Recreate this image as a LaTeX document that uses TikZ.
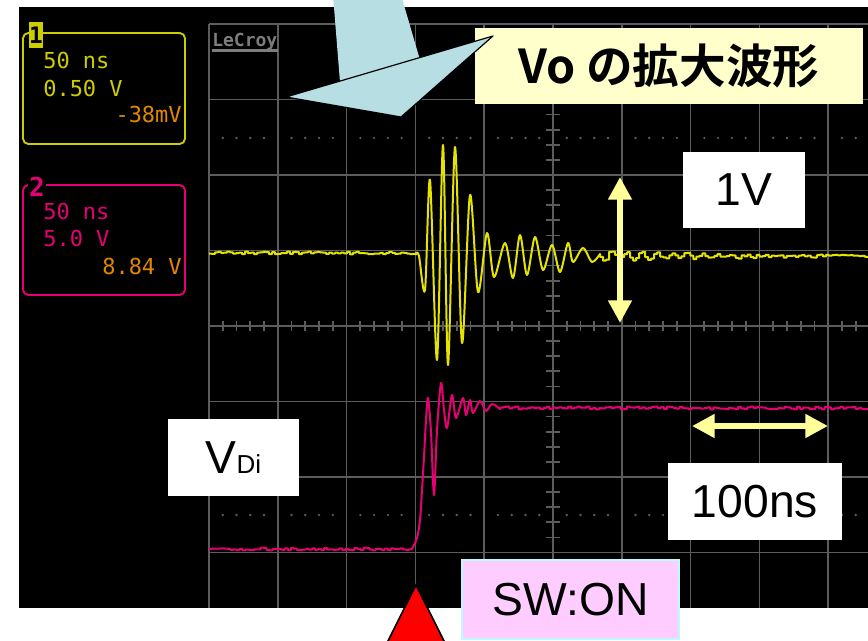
\documentclass[tikz,border=0pt]{standalone}
\usepackage{fontspec}
\setmainfont{Liberation Sans}
\newfontfamily\scopefont{DejaVu Sans Mono}
\newfontfamily\jpfont{Noto Sans CJK JP}[BoldFont={Noto Sans CJK JP Bold}]
\usetikzlibrary{arrows.meta}
\definecolor{scopeyellow}{RGB}{228,228,0}
\definecolor{textyellow}{RGB}{205,205,0}
\definecolor{scopepink}{RGB}{230,0,115}
\definecolor{scopeorange}{RGB}{225,135,0}
\definecolor{gridgray}{RGB}{92,92,92}
\definecolor{logogray}{RGB}{125,125,125}
\definecolor{calloutblue}{RGB}{183,222,227}
\definecolor{noteyellow}{RGB}{255,255,204}
\definecolor{notepink}{RGB}{255,204,255}
\definecolor{notecyan}{RGB}{190,250,250}
\definecolor{arrowyellow}{RGB}{255,255,153}
\tikzstyle{grid line} = [draw=gridgray, line width=1.3pt]
\tikzstyle{scope trace} = [line width=1.5pt, line join=round]
\tikzstyle{chbox} = [rounded corners=4pt, line width=1.4pt]
\tikzstyle{readout} = [inner sep=0pt, font=\scopefont\fontsize{16.5}{18}\selectfont]
\tikzstyle{notebox} = [fill=white, inner sep=0pt, font=\fontsize{34.7}{40}\selectfont]
\tikzstyle{dblarrow} = [draw=arrowyellow, line width=4.5pt,
    {Triangle[width=17pt,length=17pt]}-{Triangle[width=17pt,length=17pt]}]

\begin{document}
\begin{tikzpicture}[x=0.75pt, y=-0.75pt]
	  \useasboundingbox (0,0) rectangle (868,641);
	  \clip (0,0) rectangle (868,641);
	  \fill[white] (0,0) rectangle (868,641);
	  \fill[black] (19,7) rectangle (868,608);
	  % screen grid
	  \foreach \k in {0,...,9}
	    \draw[grid line] ({209+68.8*\k},24) -- ({209+68.8*\k},608);
	  \foreach \k in {0,...,7}
	    \draw[grid line] (209,{24+75.5*\k}) -- (868,{24+75.5*\k});
	  \foreach \j in {0,...,48}
	    \draw[grid line] ({209+13.76*\j},321) -- ++(0,10);
	  \foreach \j in {0,...,38}
	    \draw[grid line] (546,{24+15.1*\j}) -- ++(14,0);
	  \foreach \y in {138,515}
	    \foreach \j in {1,...,47} {
	      \pgfmathtruncatemacro\r{mod(\j,5)}
	      \ifnum\r>0 \fill[gridgray] ({209+13.76*\j},\y) circle[radius=1pt]; \fi
	    }
	  % traces
	  \pgfmathsetseed{3}
	  \draw[scope trace, scopeyellow]
	    plot[const plot, domain=209:416, samples=70] (\x,{253+1.4*rand})
	    -- plot[smooth, tension=0.5] coordinates {(416,253) (419,256) (425,290)
	      (430,180) (437,360) (443,145) (448,365) (455,147) (462,343) (470,195)
	      (478,292) (487,233) (494,277) (505,243) (513,278) (520,235) (527,275)
	      (535,237) (543,270) (552,245) (560,272) (568,243) (573,262) (583,248)
	      (592,262) (600,254)}
	    -- plot[const plot, domain=600:868, samples=90]
	      (\x,{256+5*exp(-(\x-600)/100)*sin(24*(\x-600))+1.5*rand});
	  \draw[scope trace, scopepink]
	    plot[const plot, domain=209:412, samples=68] (\x,{549+1.4*rand})
	    -- plot[smooth, tension=0.5] coordinates {(412,549) (417,538) (420,520)
	      (422,490) (424,457) (426,420) (428,398) (431,432) (434,495) (437,430)
	      (441,383) (444,410) (447,428) (452,395) (456,418) (463,398) (466,415)
	      (470,400) (473,413) (480,401) (486,411) (492,404) (500,409)}
	    -- plot[const plot, domain=500:868, samples=120] (\x,{408+1.5*rand});
	  % channel readouts
	  \draw[chbox, textyellow] (23,33) rectangle (185,144);
	  \node [fill=textyellow, text=black, inner sep=0pt, minimum width=10.5pt,
	    minimum height=19.5pt, font=\scopefont\bfseries\fontsize{17}{17}\selectfont]
	    (ch1) at (36,35) {1};
	  \node [readout, textyellow, anchor=base west] (ch1time) at (43,69) {50 ns};
	  \node [readout, textyellow, anchor=base west] (ch1volt) at (43,97) {0.50 V};
	  \node [readout, scopeorange, anchor=base east] (ch1offset) at (182,123) {-38mV};
	  \draw[chbox, scopepink] (23,185) rectangle (185,295);
	  \node [fill=black, text=scopepink, inner sep=1pt,
	    font=\scopefont\bfseries\fontsize{19.5}{20}\selectfont] (ch2) at (37,187) {2};
	  \node [readout, scopepink, anchor=base west] (ch2time) at (43,220) {50 ns};
	  \node [readout, scopepink, anchor=base west] (ch2volt) at (43,247) {5.0 V};
	  \node [readout, scopeorange, anchor=base east] (ch2offset) at (182,275) {8.84 V};
	  \node [anchor=base west, inner sep=0pt, text=logogray,
	    font=\scopefont\bfseries\fontsize{13.5}{14}\selectfont] (logo) at (212,47) {LeCroy};
	  \draw[logogray, line width=1.8pt] ([yshift=-2.5pt]logo.base west) -- ([yshift=-2.5pt]logo.base east);
	  % scale arrows and labels
	  \coordinate (vtop) at (620,177);
	  \coordinate (vbot) at (620,323);
	  \coordinate (hleft) at (692,426);
	  \coordinate (hright) at (828,426);
	  \draw[dblarrow] (vtop) -- (vbot);
	  \draw[dblarrow] (hleft) -- (hright);
	  \node [notebox, minimum width=91.5pt, minimum height=57pt] (onevolt) at (744,190) {1V};
	  \node [notebox, minimum width=130.5pt, minimum height=57.75pt] (timediv) at (755,501.5) {100ns};
	  \node [notebox, minimum width=98.25pt, minimum height=57.75pt] (vdi) at (233.5,457.5)
	    {V{\fontsize{19.5}{20}\selectfont Di}};
	  \node [notebox, fill=noteyellow, minimum width=291pt, minimum height=57pt,
	    font=\jpfont\bfseries\fontsize{35}{40}\selectfont] (zoomnote) at (669,66) {Vo の拡大波形};
	  % callout arrow
	  \fill[calloutblue] (333,-5) -- (401,-5) -- (420,60) -- (340,82) -- cycle;
	  \filldraw[fill=calloutblue, draw=black, line width=0.9pt, line join=round]
	    (286,97) -- (493,36) -- (401,117) -- cycle;
	  % trigger mark
	  \filldraw[fill=red, draw=black, line width=1.2pt] (416,585) -- (448.5,650) -- (383.5,650) -- cycle;
	  \node [notebox, fill=notepink, draw=notecyan, line width=0.8pt, minimum width=162.75pt,
	    minimum height=59.25pt] (swon) at (570.5,599.5) {SW:ON};
	\end{tikzpicture}
\end{document}
